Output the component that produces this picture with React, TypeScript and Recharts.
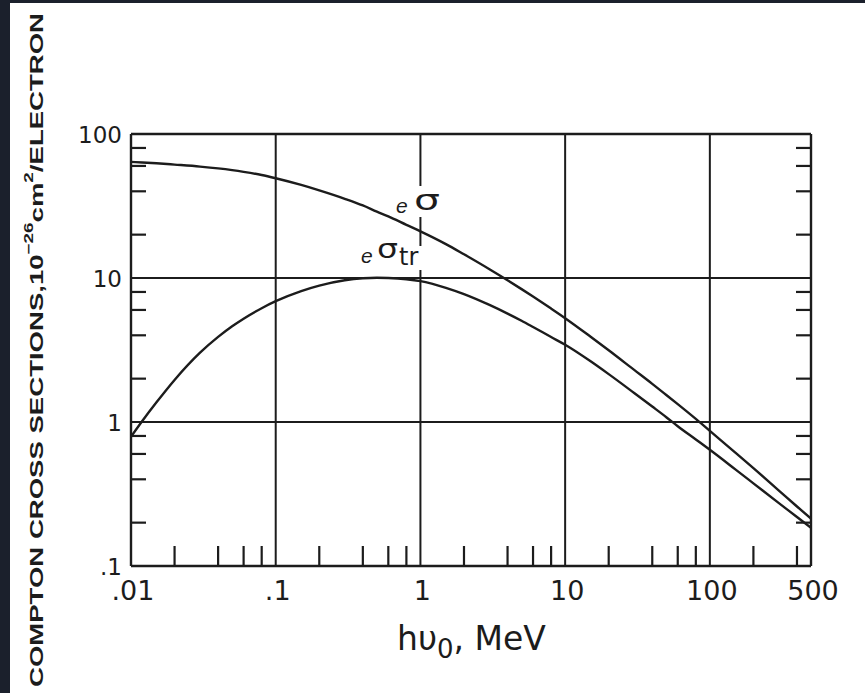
import React from 'react';
import { LineChart, Line, XAxis, YAxis, ReferenceLine } from 'recharts';

// photon energy hν0 (MeV)
const energyMeV = [0.01, 0.012, 0.015, 0.02, 0.03, 0.04, 0.05, 0.06, 0.08, 0.1, 0.15, 0.2, 0.3, 0.4, 0.5, 0.6, 0.8, 1, 1.5, 2, 3, 4, 5, 6, 8, 10, 15, 20, 30, 40, 50, 60, 80, 100, 150, 200, 300, 400, 500];
// eσ  (10^-26 cm^2 / electron)
const sigmaTotal = [64.0, 63.4, 62.6, 61.3, 59.4, 57.7, 56.1, 54.6, 51.9, 49.3, 44.3, 40.6, 35.5, 31.9, 28.9, 26.8, 23.4, 21.1, 17.2, 14.6, 11.5, 9.64, 8.37, 7.43, 6.13, 5.26, 3.91, 3.15, 2.3, 1.84, 1.54, 1.33, 1.05, 0.867, 0.613, 0.478, 0.334, 0.259, 0.213];
// eσtr (10^-26 cm^2 / electron)
const sigmaTransfer = [0.79, 1.02, 1.37, 1.96, 3.03, 3.9, 4.62, 5.22, 6.17, 6.9, 8.11, 8.85, 9.64, 9.95, 10.04, 10.0, 9.8, 9.51, 8.55, 7.73, 6.5, 5.66, 5.05, 4.57, 3.89, 3.44, 2.64, 2.15, 1.59, 1.28, 1.08, 0.935, 0.756, 0.641, 0.469, 0.375, 0.2735, 0.219, 0.184];

const xTickValues = [0.01, 0.02, 0.04, 0.06, 0.08, 0.1, 0.2, 0.4, 0.6, 0.8, 1, 2, 4, 6, 8, 10, 20, 40, 60, 80, 100, 200, 400, 500];
const xMajorValues = [0.01, 0.1, 1, 10, 100, 500];
const xMajorLabels = ['.01', '.1', '1', '10', '100', '500'];
const yTickValues = [0.1, 0.2, 0.4, 0.6, 0.8, 1, 2, 4, 6, 8, 10, 20, 40, 60, 80, 100];
const yMajorValues = [0.1, 1, 10, 100];
const yMajorLabels = ['.1', '1', '10', '100'];
const xGridValues = [0.1, 1, 10, 100];
const yGridValues = [1, 10];
const xDomain = [0.01, 500];
const yDomain = [0.1, 100];

const data = energyMeV.map((e, i) => ({ e, total: sigmaTotal[i], tr: sigmaTransfer[i] }));

const INK = '#1c1c1c';
const BORDER = '#1b202c';

function XTick(props: any) {
  const { x, y, payload } = props;
  const mi = xMajorValues.indexOf(payload.value);
  return (
    <g>
      {mi < 0 && <line x1={x} x2={x} y1={y} y2={y - 20} stroke={INK} strokeWidth={2.2} />}
      {mi >= 0 && (
        <text x={x + 2} y={y + 34} textAnchor="middle" fontFamily="DejaVu Sans" fontSize={27} fill={INK}>
          {xMajorLabels[mi]}
        </text>
      )}
    </g>
  );
}

function YTickLeft(props: any) {
  const { x, y, payload } = props;
  const mi = yMajorValues.indexOf(payload.value);
  return (
    <g>
      {mi < 0 && <line x1={x} x2={x + 15} y1={y} y2={y} stroke={INK} strokeWidth={2.2} />}
      {mi >= 0 && (
        <text x={x - 9} y={y + 9} textAnchor="end" fontFamily="DejaVu Sans" fontSize={23} fill={INK}>
          {yMajorLabels[mi]}
        </text>
      )}
    </g>
  );
}

function YTickRight(props: any) {
  const { x, y, payload } = props;
  const mi = yMajorValues.indexOf(payload.value);
  return <g>{mi < 0 && <line x1={x - 15} x2={x} y1={y} y2={y} stroke={INK} strokeWidth={2.2} />}</g>;
}

export default function App() {
  return (
    <div style={{ position: 'fixed', left: 0, top: 0, width: 865, height: 693, background: BORDER }}>
      <div style={{ position: 'absolute', left: 10, top: 3, width: 855, height: 690, background: '#ffffff' }} />
      <div style={{ position: 'absolute', left: 0, top: 0 }}>
        <LineChart width={865} height={693} data={data} margin={{ top: 134, right: 53, bottom: 126, left: 130 }}>
          <XAxis
            xAxisId="x"
            dataKey="e"
            type="number"
            scale="log"
            domain={xDomain}
            allowDataOverflow
            ticks={xTickValues}
            interval={0}
            tick={<XTick />}
            tickLine={false}
            axisLine={false}
            tickSize={0}
            tickMargin={0}
            height={1}
          />
          <YAxis
            yAxisId="left"
            type="number"
            scale="log"
            domain={yDomain}
            allowDataOverflow
            ticks={yTickValues}
            interval={0}
            tick={<YTickLeft />}
            tickLine={false}
            axisLine={false}
            tickSize={0}
            tickMargin={0}
            width={1}
          />
          <YAxis
            yAxisId="right"
            orientation="right"
            type="number"
            scale="log"
            domain={yDomain}
            allowDataOverflow
            ticks={yTickValues}
            interval={0}
            tick={<YTickRight />}
            tickLine={false}
            axisLine={false}
            tickSize={0}
            tickMargin={0}
            width={1}
          />
          {xGridValues.map((v) => (
            <ReferenceLine key={'gx' + v} xAxisId="x" yAxisId="left" x={v} stroke={INK} strokeWidth={2} />
          ))}
          {yGridValues.map((v) => (
            <ReferenceLine key={'gy' + v} xAxisId="x" yAxisId="left" y={v} stroke={INK} strokeWidth={2} />
          ))}
          <ReferenceLine xAxisId="x" yAxisId="left" x={xDomain[0]} stroke={INK} strokeWidth={2.4} />
          <ReferenceLine xAxisId="x" yAxisId="left" x={xDomain[1]} stroke={INK} strokeWidth={2.4} />
          <ReferenceLine xAxisId="x" yAxisId="left" y={yDomain[0]} stroke={INK} strokeWidth={2.4} />
          <ReferenceLine xAxisId="x" yAxisId="left" y={yDomain[1]} stroke={INK} strokeWidth={2.4} />
          <Line xAxisId="x" yAxisId="left" type="monotone" dataKey="total" stroke={INK} strokeWidth={2.4} dot={false} isAnimationActive={false} />
          <Line xAxisId="x" yAxisId="left" type="monotone" dataKey="tr" stroke={INK} strokeWidth={2.4} dot={false} isAnimationActive={false} />
        </LineChart>
      </div>
      <svg width={865} height={693} style={{ position: 'absolute', left: 0, top: 0, pointerEvents: 'none' }}>
        {/* gaps in the 1 MeV grid line behind the curve labels */}
        <rect x={411} y={186} width={32} height={31} fill="#ffffff" />
        <rect x={396} y={246} width={28} height={24} fill="#ffffff" />
        <text x={396} y={213} fontFamily="Liberation Sans" fontStyle="italic" fontSize={21} fill={INK}>e</text>
        <text x={414} y={210} fontFamily="DejaVu Sans" fontSize={28} textLength={26} lengthAdjust="spacingAndGlyphs" fill={INK}>σ</text>
        <text x={361} y={263} fontFamily="Liberation Sans" fontStyle="italic" fontSize={21} fill={INK}>e</text>
        <text x={377} y={258} fontFamily="DejaVu Sans" fontSize={26} textLength={21} lengthAdjust="spacingAndGlyphs" fill={INK}>σ</text>
        <text x={399} y={265} fontFamily="DejaVu Sans" fontSize={24} fill={INK}>tr</text>
        {/* y-axis title */}
        <text
          x={43}
          y={350}
          transform="rotate(-90, 43, 350)"
          textAnchor="middle"
          fontFamily="Liberation Sans"
          fontWeight="bold"
          fontSize={19}
          textLength={674}
          lengthAdjust="spacingAndGlyphs"
          fill={INK}
        >
          COMPTON CROSS SECTIONS,10
          <tspan fontSize={13} dy={-10}>−26</tspan>
          <tspan dy={10}>cm</tspan>
          <tspan fontSize={13} dy={-10}>2</tspan>
          <tspan dy={10}>/ELECTRON</tspan>
        </text>
        {/* x-axis title */}
        <text x={397} y={650} fontFamily="DejaVu Sans" fontSize={33} fill={INK}>
          hυ
          <tspan fontSize={26} dy={8}>0</tspan>
          <tspan dy={-8}>, MeV</tspan>
        </text>
      </svg>
    </div>
  );
}
